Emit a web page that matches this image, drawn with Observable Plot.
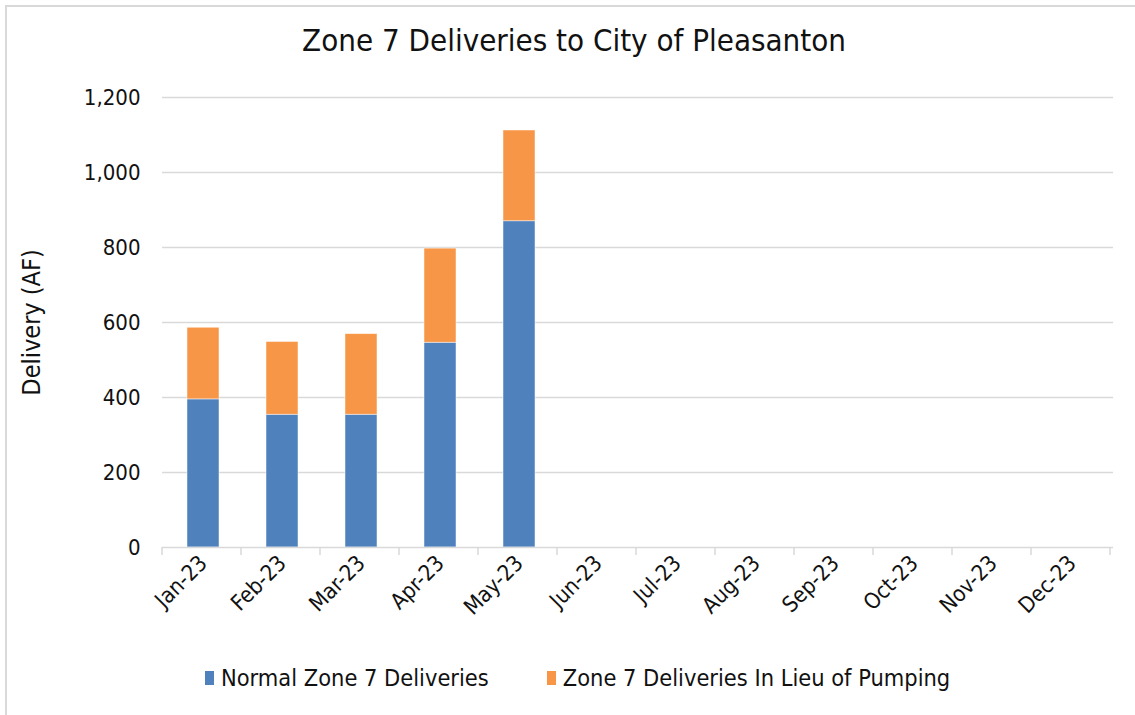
<!DOCTYPE html>
<html>
<head>
<meta charset="utf-8">
<script src="https://cdn.jsdelivr.net/npm/d3@7"></script>
<script src="https://cdn.jsdelivr.net/npm/@observablehq/plot@0.6"></script>
<style>
  html, body { margin: 0; padding: 0; background: #fff; }
  #wrap { position: relative; width: 1135px; height: 715px; overflow: hidden;
          font-family: "DejaVu Sans Condensed", "DejaVu Sans", sans-serif; color: #111; }
  #frame { position: absolute; left: 5px; top: 5px; right: 0; bottom: 0;
           border-top: 2px solid #d9d9d9; border-left: 2px solid #d9d9d9; }
  #title { position: absolute; left: 0; top: 22px; width: 1148px; text-align: center;
           font-size: 31px; color: #111; }
  #chart { position: absolute; left: 0; top: 80px; }
  #chart svg text { fill: #111; }
  #chart g[aria-label="y-axis tick label"] text { font-size: 22px; }
  #chart g[aria-label="x-axis tick label"] text { font-size: 22px; }
  #chart g[aria-label="y-axis label"] text { font-size: 25px; }
  #legend { position: absolute; top: 664px; left: 205px; display: flex;
            gap: 58px; font-size: 23.4px; color: #111; white-space: nowrap; }
  .item { display: flex; align-items: center; gap: 7px; }
  .sw { width: 9px; height: 14px; display: inline-block; }
</style>
</head>
<body>
<div id="wrap">
  <div id="frame"></div>
  <div id="title">Zone 7 Deliveries to City of Pleasanton</div>
  <div id="chart"></div>
  <div id="legend"></div>
</div>
<script>
const months = ["Jan-23","Feb-23","Mar-23","Apr-23","May-23","Jun-23","Jul-23","Aug-23","Sep-23","Oct-23","Nov-23","Dec-23"];
const normalDeliveries = [395, 354, 354, 546, 870, null, null, null, null, null, null, null];
const inLieuDeliveries = [191, 194, 215, 251, 242, null, null, null, null, null, null, null];
const seriesNames = ["Normal Zone 7 Deliveries", "Zone 7 Deliveries In Lieu of Pumping"];
const seriesColors = ["#4f81bd", "#f79646"];
const yTicks = [0, 200, 400, 600, 800, 1000, 1200];

const data = [];
months.forEach((m, i) => {
  if (normalDeliveries[i] != null) data.push({month: m, series: seriesNames[0], value: normalDeliveries[i]});
  if (inLieuDeliveries[i] != null) data.push({month: m, series: seriesNames[1], value: inLieuDeliveries[i]});
});

function categoryTicks(index, scales, values, dims) {
  const x = scales.x, y = scales.y;
  const step = x.step ? x.step() : scales.scales.x.step;
  const r0 = x.range ? x.range()[0] : scales.scales.x.range[0];
  const y0 = y(0);
  const g = d3.create("svg:g");
  for (let i = 0; i <= months.length; i++) {
    const px = r0 + i * step;
    g.append("line").attr("x1", px).attr("x2", px).attr("y1", y0).attr("y2", y0 + 8)
      .attr("stroke", "#d9d9d9").attr("stroke-width", 1.5);
  }
  return g.node();
}

const chart = Plot.plot({
  width: 1135,
  height: 570,
  marginLeft: 162,
  marginRight: 22,
  marginTop: 17,
  marginBottom: 103,
  style: {fontFamily: "\"DejaVu Sans Condensed\", \"DejaVu Sans\", sans-serif", fontSize: "20px", color: "#111", background: "transparent"},
  x: {domain: months, paddingInner: 0.6, paddingOuter: 0.3},
  y: {domain: [0, 1200]},
  color: {domain: seriesNames, range: seriesColors},
  marks: [
    Plot.ruleY(yTicks.filter(d => d > 0), {stroke: "#d9d9d9", strokeWidth: 1.5}),
    Plot.barY(data, {x: "month", y: "value", fill: "series", stroke: "#ffffff", strokeWidth: 0.8, strokeOpacity: 0.6}),
    Plot.ruleY([0], {stroke: "#d9d9d9", strokeWidth: 1.5}),
    categoryTicks,
    Plot.axisY({ticks: yTicks, tickFormat: d3.format(","), tickSize: 0, tickPadding: 22,
                label: "Delivery (AF)", labelAnchor: "center", labelArrow: "none", labelOffset: 140}),
    Plot.axisX({tickSize: 0, tickRotate: -45, tickPadding: 12, label: null})
  ]
});
document.getElementById("chart").appendChild(chart);

const legend = document.getElementById("legend");
seriesNames.forEach((name, i) => {
  const item = document.createElement("div");
  item.className = "item";
  const sw = document.createElement("span");
  sw.className = "sw";
  sw.style.background = seriesColors[i];
  const t = document.createElement("span");
  t.textContent = name;
  item.appendChild(sw); item.appendChild(t);
  legend.appendChild(item);
});
</script>
</body>
</html>
